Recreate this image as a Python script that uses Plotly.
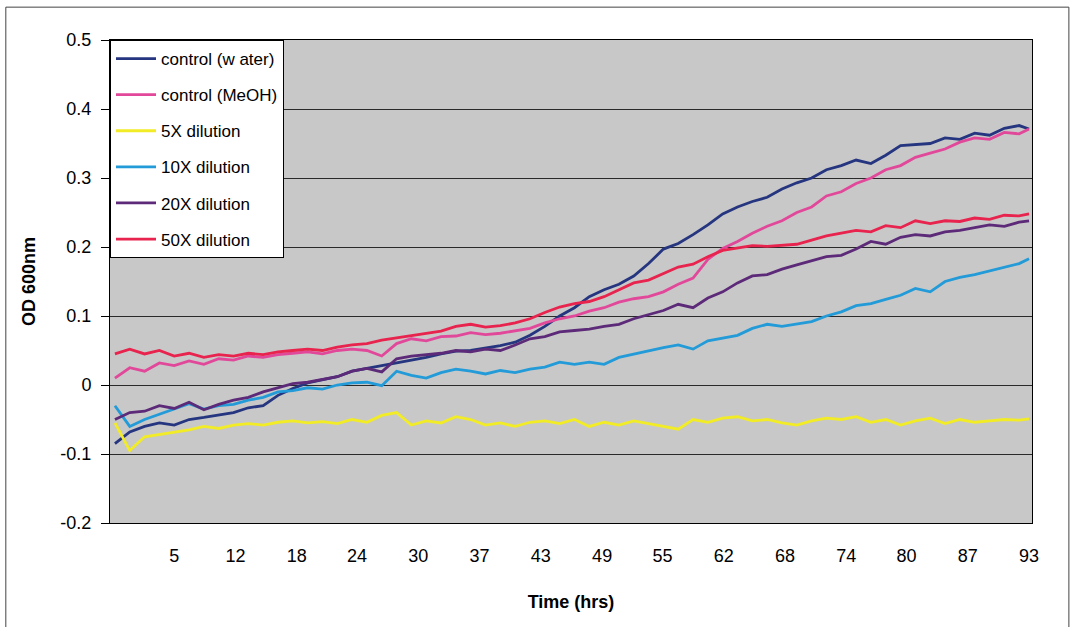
import plotly.graph_objects as go

# Sampling times (hours)
TIME_HRS = [0.5, 2, 3.5, 5, 6.5, 8, 9.5, 11, 12.5, 14, 15.5, 17, 18.5, 20, 21.5, 23,
            24.5, 26, 27.5, 29, 30.5, 32, 33.5, 35, 36.5, 38, 39.5, 41, 42.5, 44, 45.5,
            47, 48.5, 50, 51.5, 53, 54.5, 56, 57.5, 59, 60.5, 62, 63.5, 65, 66.5, 68,
            69.5, 71, 72.5, 74, 75.5, 77, 78.5, 80, 81.5, 83, 84.5, 86, 87.5, 89, 90.5,
            92, 93]

CONTROL_WATER = [-0.085, -0.068, -0.060, -0.055, -0.058, -0.050, -0.047, -0.043, -0.040, -0.033,
                 -0.030, -0.015, -0.005, 0.003, 0.008, 0.012, 0.020, 0.024, 0.028, 0.031,
                 0.036, 0.040, 0.045, 0.049, 0.050, 0.053, 0.057, 0.062, 0.072, 0.085,
                 0.100, 0.112, 0.128, 0.138, 0.146, 0.158, 0.176, 0.197, 0.205, 0.218,
                 0.232, 0.248, 0.258, 0.266, 0.272, 0.284, 0.293, 0.300, 0.312, 0.318,
                 0.326, 0.321, 0.333, 0.347, 0.349, 0.350, 0.358, 0.356, 0.365, 0.362,
                 0.372, 0.376, 0.371]

CONTROL_MEOH = [0.010, 0.025, 0.020, 0.032, 0.028, 0.035, 0.030, 0.038, 0.036, 0.042,
                0.040, 0.044, 0.046, 0.048, 0.045, 0.050, 0.052, 0.050, 0.042, 0.060,
                0.067, 0.064, 0.070, 0.071, 0.076, 0.073, 0.075, 0.078, 0.082, 0.090,
                0.096, 0.100, 0.107, 0.112, 0.120, 0.125, 0.128, 0.135, 0.146, 0.155,
                0.182, 0.198, 0.208, 0.220, 0.230, 0.238, 0.250, 0.258, 0.274, 0.280,
                0.292, 0.300, 0.312, 0.318, 0.330, 0.336, 0.342, 0.352, 0.358, 0.356,
                0.366, 0.364, 0.371]

DIL_5X = [-0.055, -0.095, -0.075, -0.072, -0.068, -0.065, -0.060, -0.063, -0.058, -0.056,
          -0.058, -0.054, -0.052, -0.055, -0.053, -0.056, -0.050, -0.054, -0.044, -0.040,
          -0.058, -0.052, -0.055, -0.046, -0.050, -0.058, -0.055, -0.060, -0.054, -0.052,
          -0.056, -0.050, -0.060, -0.054, -0.058, -0.052, -0.056, -0.060, -0.064, -0.050,
          -0.054, -0.048, -0.046, -0.052, -0.050, -0.055, -0.058, -0.052, -0.048, -0.050,
          -0.046, -0.054, -0.050, -0.058, -0.052, -0.048, -0.056, -0.050, -0.054, -0.052,
          -0.050, -0.051, -0.049]

DIL_10X = [-0.030, -0.060, -0.050, -0.042, -0.035, -0.027, -0.035, -0.030, -0.028, -0.022,
           -0.018, -0.010, -0.008, -0.004, -0.006, 0.000, 0.003, 0.004, -0.001, 0.020,
           0.014, 0.010, 0.018, 0.023, 0.020, 0.016, 0.021, 0.018, 0.023, 0.026,
           0.033, 0.030, 0.033, 0.030, 0.040, 0.045, 0.050, 0.054, 0.058, 0.052,
           0.064, 0.068, 0.072, 0.082, 0.088, 0.085, 0.088, 0.092, 0.100, 0.106,
           0.115, 0.118, 0.124, 0.130, 0.140, 0.135, 0.150, 0.156, 0.160, 0.165,
           0.170, 0.176, 0.183]

DIL_20X = [-0.050, -0.040, -0.038, -0.030, -0.034, -0.025, -0.036, -0.028, -0.022, -0.018,
           -0.010, -0.004, 0.002, 0.004, 0.008, 0.012, 0.020, 0.024, 0.019, 0.038,
           0.042, 0.044, 0.046, 0.050, 0.048, 0.052, 0.050, 0.058, 0.067, 0.070,
           0.077, 0.079, 0.081, 0.085, 0.088, 0.096, 0.102, 0.108, 0.117, 0.112,
           0.126, 0.135, 0.148, 0.158, 0.160, 0.168, 0.174, 0.180, 0.186, 0.188,
           0.197, 0.208, 0.204, 0.214, 0.218, 0.216, 0.222, 0.224, 0.228, 0.232,
           0.230, 0.236, 0.238]

DIL_50X = [0.045, 0.052, 0.045, 0.050, 0.042, 0.046, 0.040, 0.044, 0.042, 0.046,
           0.044, 0.048, 0.050, 0.052, 0.050, 0.055, 0.058, 0.060, 0.065, 0.068,
           0.072, 0.075, 0.078, 0.085, 0.088, 0.084, 0.086, 0.090, 0.096, 0.105,
           0.113, 0.118, 0.121, 0.128, 0.138, 0.148, 0.152, 0.162, 0.171, 0.175,
           0.186, 0.195, 0.198, 0.202, 0.201, 0.203, 0.204, 0.210, 0.216, 0.220,
           0.224, 0.222, 0.231, 0.228, 0.238, 0.234, 0.238, 0.237, 0.242, 0.240,
           0.246, 0.245, 0.248]

SERIES_NAMES = ["control (w ater)", "control (MeOH)", "5X dilution",
                "10X dilution", "20X dilution", "50X dilution"]
SERIES_COLORS = ["#25357f", "#e2489a", "#f2ec26", "#229bd8", "#5c2a78", "#e8234d"]

X_TICK_VALS = [6.5, 12.7, 18.9, 25.0, 31.2, 37.4, 43.6, 49.8, 55.9, 62.1, 68.3, 74.5, 80.6, 86.8, 93.0]
X_TICK_TEXT = ["5", "12", "18", "24", "30", "37", "43", "49", "55", "62", "68", "74", "80", "87", "93"]
Y_TICK_VALS = [-0.2, -0.1, 0, 0.1, 0.2, 0.3, 0.4, 0.5]
Y_TICK_TEXT = ["-0.2", "-0.1", "0", "0.1", "0.2", "0.3", "0.4", "0.5"]

series_values = [CONTROL_WATER, CONTROL_MEOH, DIL_5X, DIL_10X, DIL_20X, DIL_50X]

fig = go.Figure()
for i, (name, vals, col) in enumerate(zip(SERIES_NAMES, series_values, SERIES_COLORS)):
    fig.add_trace(go.Scatter(
        x=TIME_HRS, y=vals, mode="lines", name=name,
        line=dict(color=col, width=2.8),
        legendgroup=f"g{i}",
    ))

fig.update_layout(
    width=1074, height=627,
    margin=dict(l=110, r=42, t=40, b=104),
    paper_bgcolor="white",
    plot_bgcolor="#c8c8c8",
    font=dict(family="Arial, Liberation Sans, sans-serif", size=18, color="black"),
    showlegend=True,
    legend=dict(
        x=0, y=1, xanchor="left", yanchor="top",
        bgcolor="white", bordercolor="black", borderwidth=1,
        font=dict(size=17, color="black"),
        tracegroupgap=11, itemwidth=40,
        traceorder="grouped",
    ),
    xaxis=dict(
        range=[0, 93.3], tickvals=X_TICK_VALS, ticktext=X_TICK_TEXT,
        showgrid=False, zeroline=False, ticks="",
        showline=True, linecolor="black", linewidth=1, mirror=True,
        ticklabelstandoff=16,
        title=dict(text="<b>Time (hrs)</b>", font=dict(size=18), standoff=30),
    ),
    yaxis=dict(
        range=[-0.2, 0.5], tickvals=Y_TICK_VALS, ticktext=Y_TICK_TEXT,
        showgrid=True, gridcolor="#2a2a2a", gridwidth=1, zeroline=False,
        ticks="outside", ticklen=8, tickcolor="black",
        showline=True, linecolor="black", linewidth=1, mirror=True,
        ticklabelstandoff=6,
        title=dict(text="<b>OD 600nm</b>", font=dict(size=18), standoff=20),
    ),
    shapes=[dict(type="rect", xref="paper", yref="paper",
                 x0=-0.113, x1=1.040, y0=-0.22, y1=1.068,
                 line=dict(color="#444444", width=1), layer="below")],
)

fig.write_html("out.html")
